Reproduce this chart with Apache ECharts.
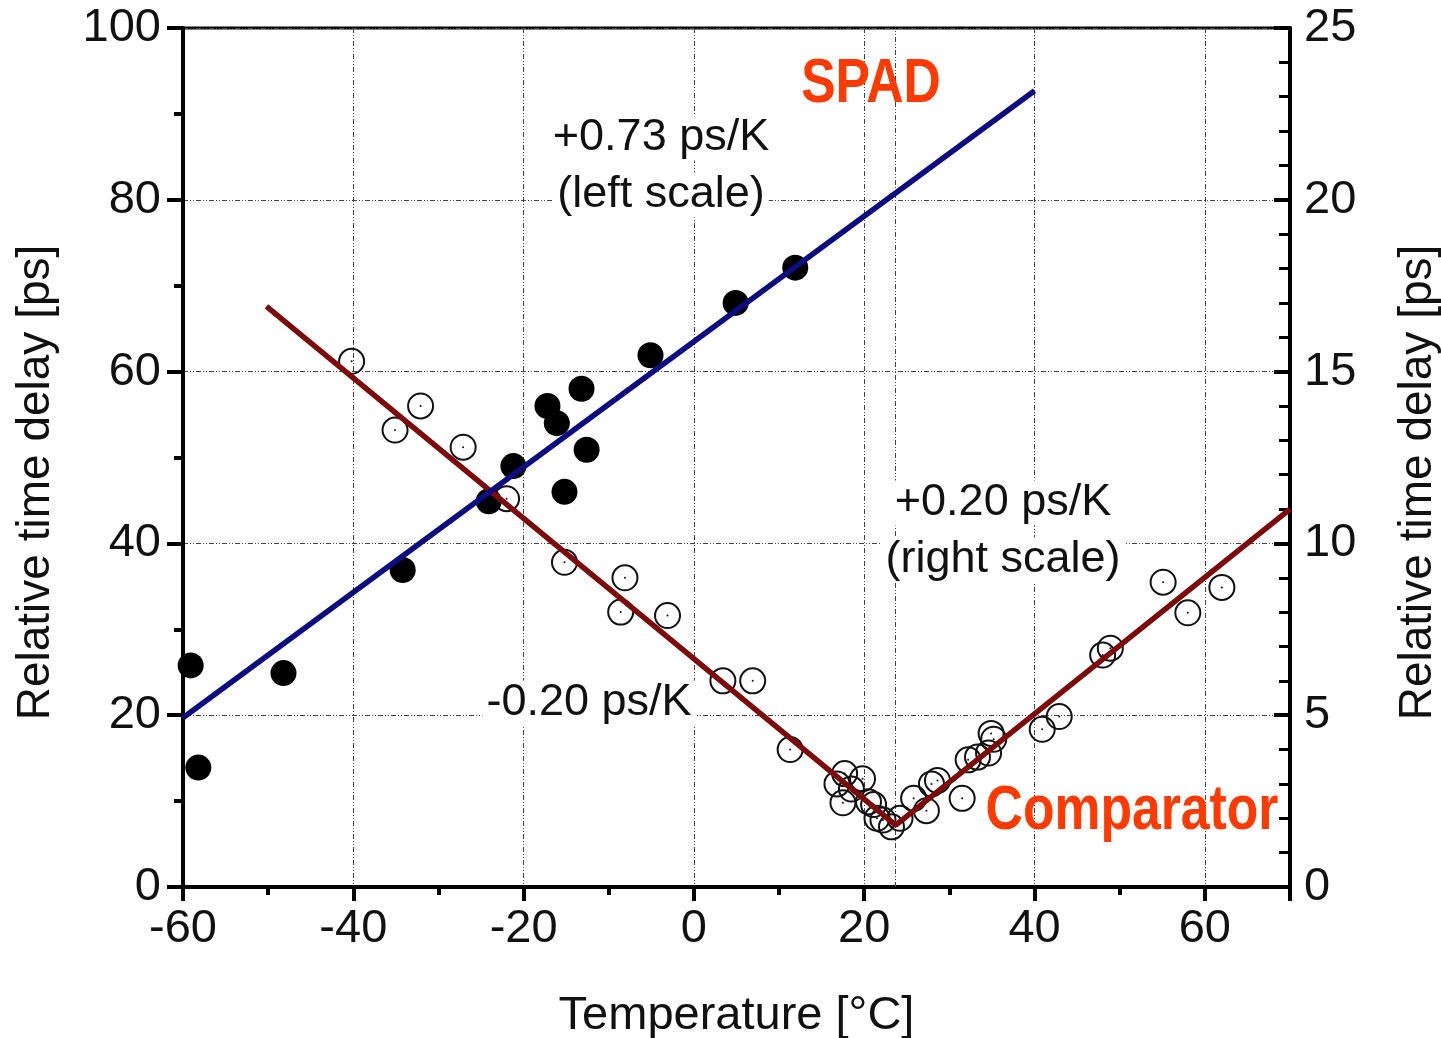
<!DOCTYPE html>
<html>
<head>
<meta charset="utf-8">
<script src="https://cdn.jsdelivr.net/npm/echarts@6/dist/echarts.min.js"></script>
<style>
html,body{margin:0;padding:0;background:#fff;overflow:hidden;width:1441px;height:1038px;}
#chart{position:absolute;left:0;top:0;width:1441px;height:1038px;}
</style>
</head>
<body>
<div id="chart"></div>
<script>
// ---- data ----
const spadPoints = [
  [-59.1, 25.8], [-58.2, 13.9], [-48.2, 24.9], [-34.2, 36.9], [-24.1, 44.9],
  [-21.2, 49.0], [-17.2, 56.0], [-16.1, 54.0], [-15.2, 46.0], [-13.2, 58.0],
  [-12.6, 50.9], [-5.1, 61.9], [4.9, 68.0], [11.9, 72.1]
];
const spadFit = [[-60, 19.7], [40, 92.7]];

const comparatorPoints = [
  [-40.2, 15.3], [-35.1, 13.3], [-32.1, 14.0], [-27.1, 12.8], [-22.0, 11.3],
  [-15.2, 9.45], [-8.1, 9.0], [-8.6, 8.0], [-3.1, 7.9], [3.4, 6.0], [6.9, 6.0],
  [11.3, 4.0], [16.8, 3.0], [17.7, 3.3], [18.5, 2.85], [17.5, 2.45], [19.8, 3.15],
  [20.5, 2.48], [21.1, 2.4], [21.5, 2.0], [22.2, 1.95], [23.2, 1.75], [24.2, 2.0],
  [25.8, 2.58], [27.3, 2.22], [27.9, 3.0], [28.6, 3.1], [31.5, 2.58], [32.2, 3.7],
  [33.3, 3.78], [34.6, 3.9], [34.9, 4.47], [35.2, 4.3], [40.9, 4.59], [42.9, 4.96],
  [48.0, 6.75], [48.9, 6.95], [55.1, 8.87], [58.0, 7.98], [62.0, 8.72]
];
const comparatorFit = [[-50.2, 16.9], [23.7, 1.8], [70, 11.0]];
const vertexX = 23.7;

const xTicks = { min: -60, max: 70, interval: 20 };
const yLeftTicks = { min: 0, max: 100, interval: 20 };
const yRightTicks = { min: 0, max: 25, interval: 5 };

const annotations = [
  { text: '+0.73 ps/K', x: 661, y: 138 },
  { text: '(left scale)', x: 661, y: 195 },
  { text: '+0.20 ps/K', x: 1003, y: 503 },
  { text: '(right scale)', x: 1003, y: 560 },
  { text: '-0.20 ps/K', x: 589, y: 703 }
];
const redLabels = [
  { text: 'SPAD', x: 871, y: 85 },
  { text: 'Comparator', x: 1132, y: 812 }
];

// ---- chart ----
const FONT = '"Liberation Sans", Arial, sans-serif';
const gridDash = [5, 2, 1, 2, 1, 2];
const chart = echarts.init(document.getElementById('chart'), null, { renderer: 'canvas', width: 1441, height: 1038 });

const graphics = [];
annotations.forEach(a => graphics.push({
  type: 'text', x: a.x, y: a.y, z: 50,
  style: {
    text: a.text, x: 0, y: 0, align: 'center', verticalAlign: 'middle',
    font: '45px ' + FONT, fill: '#111',
    backgroundColor: '#fff', padding: [0, 4, 0, 4]
  }
}));
redLabels.forEach(a => graphics.push({
  type: 'text', x: a.x, y: a.y, z: 50, scaleX: 0.82, scaleY: 1,
  style: {
    text: a.text, x: 0, y: 0, align: 'center', verticalAlign: 'middle',
    font: 'bold 63px ' + FONT,
    fill: '#ff3a00'
  }
}));

const option = {
  animation: false,
  backgroundColor: '#fff',
  grid: {
    left: 183, right: 151, top: 28, bottom: 151,
    outerBoundsMode: 'none', containLabel: false,
    show: true, borderColor: '#000', borderWidth: 3, backgroundColor: 'transparent'
  },
  xAxis: {
    type: 'value', min: xTicks.min, max: xTicks.max, interval: xTicks.interval,
    name: 'Temperature [°C]', nameLocation: 'middle', nameGap: 106,
    nameTextStyle: { fontSize: 47, fontFamily: FONT, color: '#111' },
    axisLine: { show: true, onZero: false, lineStyle: { color: '#000', width: 4 } },
    axisTick: { show: true, inside: false, length: 14, lineStyle: { width: 4, color: '#000' } },
    minorTick: { show: true, splitNumber: 2, length: 8, lineStyle: { width: 4, color: '#000' } },
    axisLabel: { fontSize: 47, fontFamily: FONT, color: '#111', margin: 19, showMaxLabel: false },
    splitLine: { show: true, lineStyle: { color: '#444', width: 1, type: gridDash } }
  },
  yAxis: [
    {
      type: 'value', min: yLeftTicks.min, max: yLeftTicks.max, interval: yLeftTicks.interval,
      position: 'left',
      name: 'Relative time delay [ps]', nameLocation: 'middle', nameGap: 124,
      nameTextStyle: { fontSize: 46, fontFamily: FONT, color: '#111', padding: [0, 50, 0, 0] },
      axisLine: { show: true, onZero: false, lineStyle: { color: '#000', width: 4 } },
      axisTick: { show: true, inside: false, length: 16, lineStyle: { width: 4, color: '#000' } },
      minorTick: { show: true, splitNumber: 2, length: 9, lineStyle: { width: 4, color: '#000' } },
      axisLabel: { fontSize: 47, fontFamily: FONT, color: '#111', margin: 22 },
      splitLine: { show: true, lineStyle: { color: '#444', width: 1, type: gridDash } }
    },
    {
      type: 'value', min: yRightTicks.min, max: yRightTicks.max, interval: yRightTicks.interval,
      position: 'right',
      name: 'Relative time delay [ps]', nameLocation: 'middle', nameGap: 105,
      nameTextStyle: { fontSize: 46, fontFamily: FONT, color: '#111', padding: [0, 50, 0, 0] },
      axisLine: { show: true, onZero: false, lineStyle: { color: '#000', width: 4 } },
      axisTick: { show: true, inside: true, length: 16, lineStyle: { width: 4, color: '#000' } },
      minorTick: { show: true, splitNumber: 5, length: 11, lineStyle: { width: 3, color: '#000' } },
      axisLabel: { fontSize: 47, fontFamily: FONT, color: '#111', margin: 14 },
      splitLine: { show: false }
    }
  ],
  series: [
    {
      name: 'Comparator', type: 'scatter', yAxisIndex: 1, data: comparatorPoints,
      symbol: 'circle', symbolSize: 25, z: 3,
      itemStyle: { color: 'rgba(255,255,255,0)', borderColor: '#111', borderWidth: 2, opacity: 1 }
    },
    {
      name: 'Comparator centers', type: 'scatter', yAxisIndex: 1, data: comparatorPoints,
      symbol: 'circle', symbolSize: 2, z: 3, itemStyle: { color: '#111', opacity: 1 }
    },
    {
      name: 'SPAD', type: 'scatter', yAxisIndex: 0, data: spadPoints,
      symbol: 'circle', symbolSize: 26, z: 3, itemStyle: { color: '#000', opacity: 1 }
    },
    {
      name: 'Comparator fit', type: 'line', yAxisIndex: 1, data: comparatorFit,
      symbol: 'none', z: 4, lineStyle: { color: '#7d0b0b', width: 5.5 },
      markLine: {
        silent: true, symbol: 'none', label: { show: false }, z: 1,
        lineStyle: { color: '#444', width: 1, type: gridDash },
        data: [{ xAxis: vertexX }]
      }
    },
    {
      name: 'SPAD fit', type: 'line', yAxisIndex: 0, data: spadFit,
      symbol: 'none', z: 5, lineStyle: { color: '#0b0d80', width: 5.5 }
    }
  ],
  graphic: graphics
};
chart.setOption(option);
</script>
</body>
</html>
